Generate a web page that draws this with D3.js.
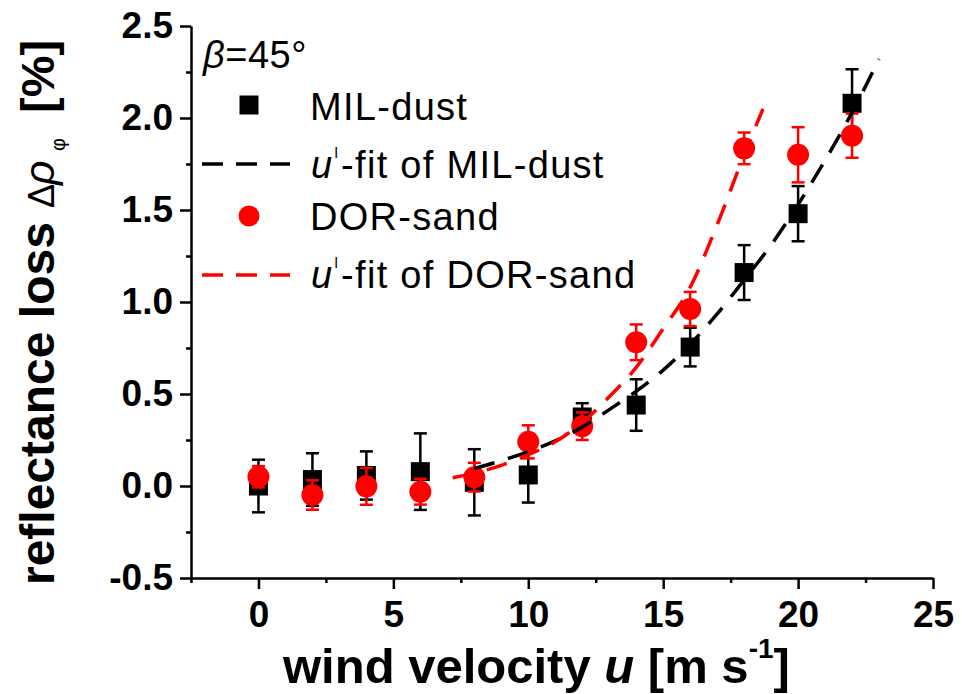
<!DOCTYPE html>
<html><head><meta charset="utf-8">
<script src="https://cdn.jsdelivr.net/npm/d3@7"></script>
<style>
html,body{margin:0;padding:0;background:#fff;}
svg{display:block;font-family:"Liberation Sans",Arial,Helvetica,sans-serif;}
</style></head><body>
<svg id="chart" width="962" height="694"></svg>
<script>
// Wind velocities of the measurements [m/s]
const windSpeed = [0, 2, 4, 6, 8, 10, 12, 14, 16, 18, 20, 22];

// Reflectance loss [%] and its uncertainty
const milDust    = [0.00, 0.035, 0.057, 0.078, 0.02, 0.06, 0.375, 0.44, 0.755, 1.16, 1.48, 2.08];
const milDustErr = [0.143, 0.143, 0.131, 0.208, 0.18, 0.15, 0.075, 0.14, 0.105, 0.149, 0.15, 0.185];
const dorSand    = [0.05, -0.049, -0.002, -0.031, 0.048, 0.24, 0.325, 0.781, 0.962, 1.835, 1.80, 1.904];
const dorSandErr = [0.058, 0.08, 0.10, 0.07, 0.078, 0.09, 0.075, 0.097, 0.093, 0.086, 0.15, 0.12];

// Fitted curves (u^l law)
const milFitU = [8, 9, 10, 11, 12, 13, 14, 15, 16, 17, 18, 19, 20, 21, 22, 23];
const milFitV = [0.095, 0.138, 0.187, 0.245, 0.32, 0.415, 0.515, 0.63, 0.77, 0.935, 1.12, 1.31, 1.53, 1.77, 2.03, 2.32];
const dorFitU = [7.2, 8, 9, 10, 11, 12, 13, 14, 15, 16, 17, 18, 18.7];
const dorFitV = [0.045, 0.07, 0.112, 0.17, 0.24, 0.345, 0.485, 0.645, 0.855, 1.08, 1.42, 1.80, 2.05];

// Axis ticks
const xTicks = [0, 5, 10, 15, 20, 25];
const xMinorTicks = [-2.5, 2.5, 7.5, 12.5, 17.5, 22.5];
const yTicks = [-0.5, 0, 0.5, 1, 1.5, 2, 2.5];
const yMinorTicks = [-0.25, 0.25, 0.75, 1.25, 1.75, 2.25];

const legendLabels = ["MIL-dust", "-fit of MIL-dust", "DOR-sand", "-fit of DOR-sand"];

const BLACK = "#000000", RED = "#ff0000";

const svg = d3.select("#chart");
const x = d3.scaleLinear().domain([-2.5, 25]).range([191, 933]);
const y = d3.scaleLinear().domain([-0.5, 2.5]).range([578, 26]);

// ---- axes ----
function styleAxis(g) {
  g.select(".domain").attr("stroke", BLACK).attr("stroke-width", 2);
  g.selectAll(".tick line").attr("stroke", BLACK).attr("stroke-width", 2.5);
  g.selectAll(".tick text").attr("fill", BLACK)
    .attr("font-size", 37).attr("font-weight", "bold")
    .attr("font-family", '"Liberation Sans",Arial,sans-serif');
}

const gx = svg.append("g").attr("transform", `translate(0,${y(-0.5)})`);
gx.append("g").call(d3.axisBottom(x).tickValues(xMinorTicks).tickSize(5).tickSizeOuter(0).tickFormat(() => ""))
  .call(styleAxis);
gx.append("g").call(d3.axisBottom(x).tickValues(xTicks).tickSize(11).tickSizeOuter(0).tickPadding(12).tickFormat(d3.format("d")))
  .call(styleAxis);

const gy = svg.append("g").attr("transform", `translate(${x(-2.5)},0)`);
gy.append("g").call(d3.axisLeft(y).tickValues(yMinorTicks).tickSize(5).tickSizeOuter(0).tickFormat(() => ""))
  .call(styleAxis);
gy.append("g")
  .call(d3.axisLeft(y).tickValues(yTicks).tickSize(11).tickSizeOuter(0).tickPadding(7)
    .tickFormat(d => (d < 0 ? "-" : "") + Math.abs(d).toFixed(1)))
  .call(styleAxis);

// ---- data series ----
function errorBars(values, errs, color) {
  const g = svg.append("g").attr("stroke", color).attr("stroke-width", 2.5).attr("fill", "none");
  windSpeed.forEach((u, i) => {
    const cx = x(u), y0 = y(values[i] - errs[i]), y1 = y(values[i] + errs[i]);
    g.append("line").attr("x1", cx).attr("x2", cx).attr("y1", y0).attr("y2", y1);
    g.append("line").attr("x1", cx - 6.5).attr("x2", cx + 6.5).attr("y1", y0).attr("y2", y0);
    g.append("line").attr("x1", cx - 6.5).attr("x2", cx + 6.5).attr("y1", y1).attr("y2", y1);
  });
}

errorBars(milDust, milDustErr, BLACK);
svg.append("g").selectAll("rect").data(windSpeed).join("rect")
  .attr("x", d => x(d) - 9.5).attr("y", (d, i) => y(milDust[i]) - 9.5)
  .attr("width", 19).attr("height", 19).attr("fill", BLACK);

errorBars(dorSand, dorSandErr, RED);
svg.append("g").selectAll("circle").data(windSpeed).join("circle")
  .attr("cx", d => x(d)).attr("cy", (d, i) => y(dorSand[i]))
  .attr("r", 11).attr("fill", RED);

const line = d3.line().x(d => x(d[0])).y(d => y(d[1])).curve(d3.curveMonotoneX);
svg.append("path").datum(milFitU.map((u, i) => [u, milFitV[i]]))
  .attr("d", line).attr("fill", "none").attr("stroke", BLACK)
  .attr("stroke-width", 3.5).attr("stroke-dasharray", "21,14");
svg.append("path").datum(dorFitU.map((u, i) => [u, dorFitV[i]]))
  .attr("d", line).attr("fill", "none").attr("stroke", RED)
  .attr("stroke-width", 3.5).attr("stroke-dasharray", "21,14");

// ---- legend ----
const leg = svg.append("g").attr("font-size", 38).attr("fill", BLACK);
const beta = leg.append("text").attr("x", 203).attr("y", 68).attr("letter-spacing", 0.5);
beta.append("tspan").attr("font-style", "italic").text("β");
beta.append("tspan").text("=45°");

leg.append("rect").attr("x", 249 - 9.5).attr("y", 105 - 9.5).attr("width", 19).attr("height", 19).attr("fill", BLACK);
leg.append("text").attr("x", 310).attr("y", 120).attr("letter-spacing", 1.3).text(legendLabels[0]);

leg.append("line").attr("x1", 202).attr("x2", 290).attr("y1", 164).attr("y2", 164)
  .attr("stroke", BLACK).attr("stroke-width", 3.5).attr("stroke-dasharray", "21,13");
const t2 = leg.append("text").attr("x", 311).attr("y", 178).attr("letter-spacing", 1.3);
t2.append("tspan").attr("font-style", "italic").text("u");
t2.append("tspan").attr("font-size", 15).attr("dx", 1).attr("dy", -20).text("l");
t2.append("tspan").attr("dx", 2).attr("dy", 20).text(legendLabels[1]);

leg.append("circle").attr("cx", 249).attr("cy", 216).attr("r", 10.5).attr("fill", RED);
leg.append("text").attr("x", 310).attr("y", 230).attr("letter-spacing", 1.3).text(legendLabels[2]);

leg.append("line").attr("x1", 202).attr("x2", 290).attr("y1", 275).attr("y2", 275)
  .attr("stroke", RED).attr("stroke-width", 3.5).attr("stroke-dasharray", "21,13");
const t4 = leg.append("text").attr("x", 311).attr("y", 288).attr("letter-spacing", 1.3);
t4.append("tspan").attr("font-style", "italic").text("u");
t4.append("tspan").attr("font-size", 15).attr("dx", 1).attr("dy", -20).text("l");
t4.append("tspan").attr("dx", 2).attr("dy", 20).text(legendLabels[3]);

// ---- axis titles ----
const xt = svg.append("text").attr("x", 283).attr("y", 683)
  .attr("font-size", 49).attr("font-weight", "bold").attr("fill", BLACK);
xt.append("tspan").text("wind velocity ");
xt.append("tspan").attr("font-style", "italic").text("u");
xt.append("tspan").text(" [m s");
xt.append("tspan").attr("font-size", 28).attr("dy", -25).text("-1");
xt.append("tspan").attr("dy", 25).text("]");

// rotated title: x runs along the baseline, upward from the bottom end
const yt = svg.append("text").attr("transform", "translate(54,585) rotate(-90)")
  .attr("font-size", 48).attr("font-weight", "bold").attr("fill", BLACK);
yt.append("tspan").attr("x", 0).text("reflectance loss");
yt.append("tspan").attr("x", 377).attr("font-weight", "normal").attr("font-size", 36).text("Δ");
yt.append("tspan").attr("x", 400).attr("font-weight", "normal").attr("font-size", 43).attr("font-style", "italic").text("ρ");
yt.append("tspan").attr("x", 434).attr("dy", 11).attr("font-weight", "normal").attr("font-size", 20).text("φ");
yt.append("tspan").attr("x", 472).attr("dy", -11).attr("font-size", 47).text("[%]");
</script>
</body></html>
